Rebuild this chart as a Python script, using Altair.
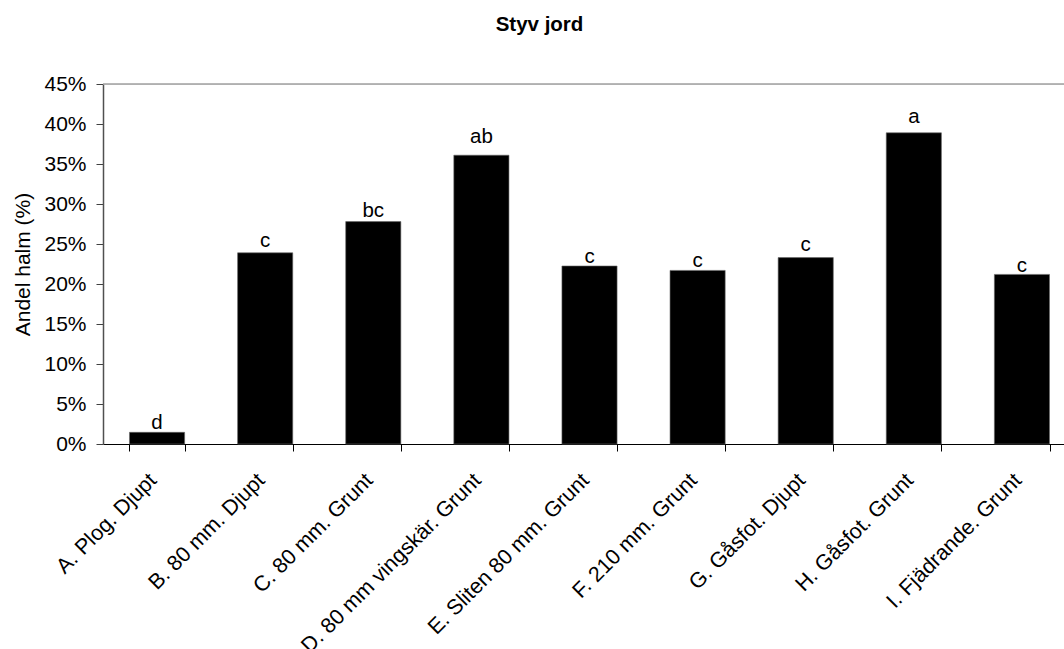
import altair as alt
import pandas as pd

categories = ["A. Plog. Djupt", "B. 80 mm. Djupt", "C. 80 mm. Grunt",
              "D. 80 mm vingskär. Grunt", "E. Sliten 80 mm. Grunt",
              "F. 210 mm. Grunt", "G. Gåsfot. Djupt", "H. Gåsfot. Grunt",
              "I. Fjädrande. Grunt"]
values = [0.0146, 0.239, 0.278, 0.361, 0.2225, 0.217, 0.233, 0.389, 0.212]
letters = ["d", "c", "bc", "ab", "c", "c", "c", "a", "c"]
letter_pos = [0.0184, 0.2466, 0.2841, 0.3759, 0.2266, 0.2216, 0.2416, 0.4016, 0.2154]
y_ticks = [0, 0.05, 0.10, 0.15, 0.20, 0.25, 0.30, 0.35, 0.40, 0.45]

df = pd.DataFrame({"cat": categories, "val": values, "lab": letters, "lp": letter_pos})
FONT = "Liberation Sans"

x = alt.X("cat:N", sort=categories, title=None,
          scale=alt.Scale(paddingInner=0.49, paddingOuter=0.245, range=[0, 973]),
          axis=alt.Axis(labelAngle=-45, labelAlign="right", labelBaseline="middle",
                        labelFont=FONT, labelFontSize=21.5, labelColor="black",
                        labelPadding=26, labelOffset=-4, tickBand="extent", tickSize=7,
                        tickColor="black", domainColor="black", labelLimit=500,
                        labelOverlap=False))
y = alt.Y("val:Q", title="Andel halm (%)",
          scale=alt.Scale(domain=[0, 0.45], nice=False),
          axis=alt.Axis(values=y_ticks, format=".0%", labelFont=FONT, labelFontSize=21,
                        labelColor="black", titleFont=FONT, titleFontSize=21,
                        titleFontWeight="normal", titleColor="black", titlePadding=10,
                        tickSize=7, tickColor="#404040", domainColor="#505050",
                        domainWidth=1.5, labelPadding=10, grid=False,
                        labelOverlap=False, labelFlush=False))

bars = alt.Chart(df).mark_bar(color="black", stroke="#666666", strokeWidth=0.6).encode(x=x, y=y)
text = alt.Chart(df).transform_calculate(val="datum.lp").mark_text(
    font=FONT, fontSize=20.5, baseline="alphabetic", color="black").encode(
    x=x, y=y, text="lab:N")
top = alt.Chart(pd.DataFrame({"val": [0.45]})).mark_rule(
    color="#a0a0a0", strokeWidth=1.5).encode(y=y, x=alt.value(0), x2=alt.value(973))

chart = alt.layer(top, bars, text).properties(
    width=961, height=360,
    autosize=alt.AutoSizeParams(type="none"),
    padding={"left": 103, "top": 84, "right": 0, "bottom": 205},
    title=alt.TitleParams("Styv jord", font=FONT, fontSize=20.5, fontWeight="bold",
                          color="black", anchor="middle", offset=38, dx=-44),
).configure_view(stroke=None).configure(background="white")

chart.save("out.html", embed_options={"renderer": "svg", "actions": False})
